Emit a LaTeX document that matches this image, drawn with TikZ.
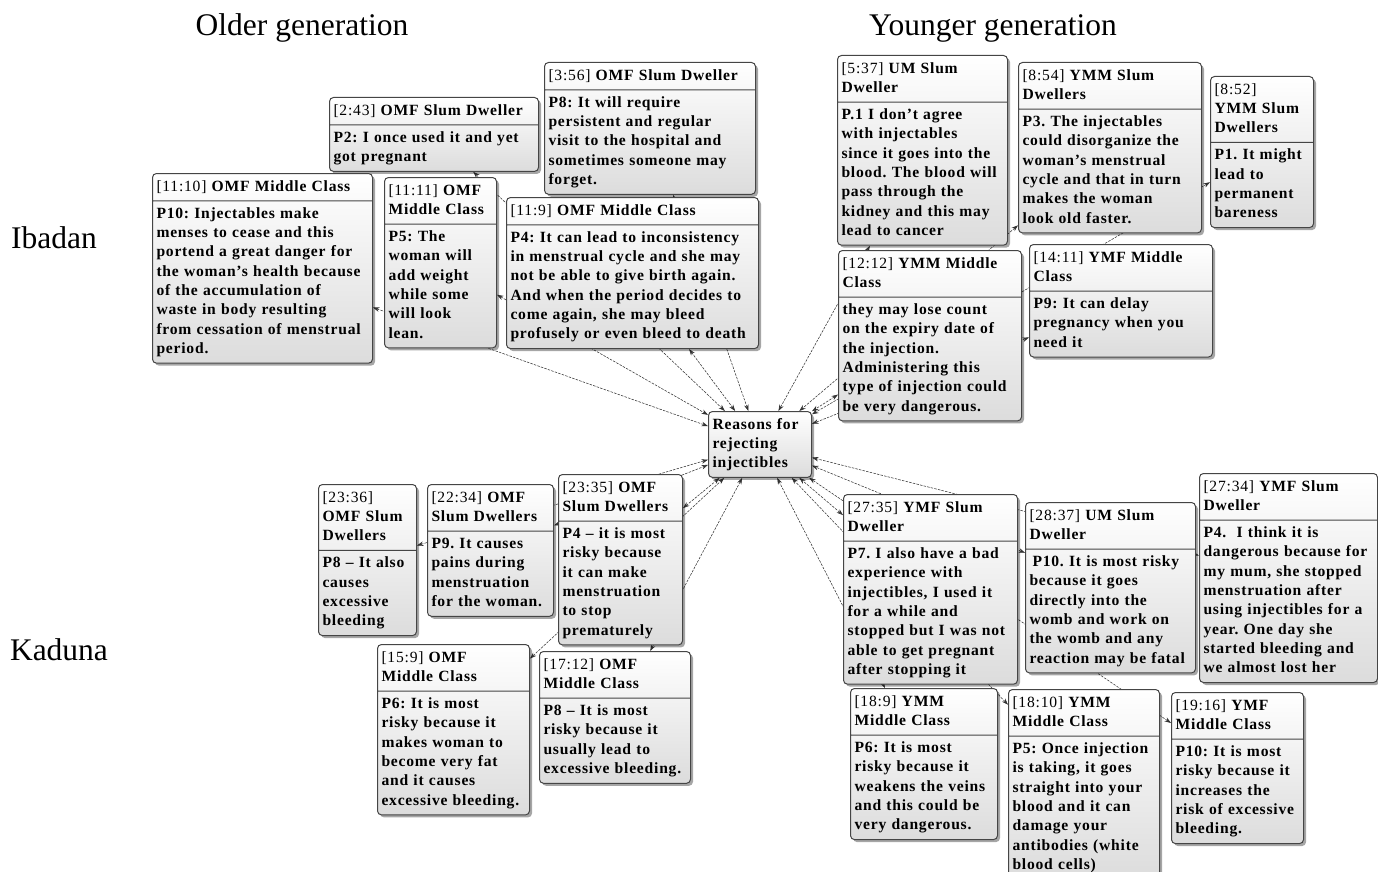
\documentclass[tikz,border=0pt]{standalone}
\usepackage{fontspec}
\setmainfont{Liberation Serif}
\newfontfamily\qfamily[LetterSpace=5]{Liberation Serif}
\usepackage{tikz}
\usetikzlibrary{shapes.multipart,shadows,arrows.meta}
\definecolor{qborder}{HTML}{454545}
\definecolor{qshade}{HTML}{DCDCDC}
\newcommand\qfont{\qfamily\fontsize{15.6}{19.3}\selectfont\bfseries\frenchspacing}
\newcommand\qtitle[2]{\strut{\mdseries[#1]} #2\strut}
\newcommand\qbody[1]{\strut#1\strut}
\pgfdeclarelayer{bg}
\pgfsetlayers{bg,main}
\tikzset{
  qbox/.style={rectangle split, rectangle split parts=2, draw=qborder, line width=1pt,
    rounded corners=4pt, top color=white, bottom color=qshade,
    drop shadow={shadow xshift=2.5pt, shadow yshift=-2.5pt, fill=black, opacity=0.35},
    inner xsep=4pt, inner ysep=3.5pt, anchor=north west, align=left, font=\qfont},
  qcode/.style={qbox, rectangle split parts=1},
  hdr/.style={font=\fontsize{31.5}{36}\selectfont},
  link/.style={draw=black!80, line width=0.55pt, dash pattern=on 2.5pt off 1.2pt,
    {Stealth[length=6.5pt,width=4.5pt]}-{Stealth[length=6.5pt,width=4.5pt]}}
}
\begin{document}
\begin{tikzpicture}[x=1pt,y=-1pt]
\useasboundingbox (0,0) rectangle (1378,872);
\node[hdr] (older) at (302,28) {Older generation};
\node[hdr] (younger) at (993,28) {Younger generation};
\node[hdr] (ibadan) at (54,238) {Ibadan};
\node[hdr] (kaduna) at (59,650) {Kaduna};

\node[qcode, text width=95pt] (cen) at (708,411) {\qbody{Reasons for\\rejecting\\injectibles}};

% Ibadan, older
\node[qbox, text width=201pt] (q243) at (329,97) {\qtitle{2:43}{OMF Slum Dweller}\nodepart{two}\qbody{P2: I once used it and yet\\got pregnant}};
\node[qbox, text width=203pt] (q356) at (544,62) {\qtitle{3:56}{OMF Slum Dweller}\nodepart{two}\qbody{P8: It will require\\persistent and regular\\visit to the hospital and\\sometimes someone may\\forget.}};
\node[qbox, text width=212pt] (q1110) at (152,173) {\qtitle{11:10}{OMF Middle Class}\nodepart{two}\qbody{P10: Injectables make\\menses to cease and this\\portend a great danger for\\the woman’s health because\\of the accumulation of\\waste in body resulting\\from cessation of menstrual\\period.}};
\node[qbox, text width=104pt] (q1111) at (384,177) {\qtitle{11:11}{OMF\\Middle Class}\nodepart{two}\qbody{P5: The\\woman will\\add weight\\while some\\will look\\lean.}};
\node[qbox, text width=244pt] (q119) at (506,197) {\qtitle{11:9}{OMF Middle Class}\nodepart{two}\qbody{P4: It can lead to inconsistency\\in menstrual cycle and she may\\not be able to give birth again.\\And when the period decides to\\come again, she may bleed\\profusely or even bleed to death}};

% Ibadan, younger
\node[qbox, text width=162pt] (q537) at (837,55) {\qtitle{5:37}{UM Slum\\Dweller}\nodepart{two}\qbody{P.1 I don’t agree\\with injectables\\since it goes into the\\blood. The blood will\\pass through the\\kidney and this may\\lead to cancer}};
\node[qbox, text width=175pt] (q854) at (1018,62) {\qtitle{8:54}{YMM Slum\\Dwellers}\nodepart{two}\qbody{P3. The injectables\\could disorganize the\\woman’s menstrual\\cycle and that in turn\\makes the woman\\look old faster.}};
\node[qbox, text width=95pt] (q852) at (1210,76) {\qtitle{8:52}{\\YMM Slum\\Dwellers}\nodepart{two}\qbody{P1. It might\\lead to\\permanent\\bareness}};
\node[qbox, text width=175pt] (q1212) at (838,250) {\qtitle{12:12}{YMM Middle\\Class}\nodepart{two}\qbody{they may lose count\\on the expiry date of\\the injection.\\Administering this\\type of injection could\\be very dangerous.}};
\node[qbox, text width=175pt] (q1411) at (1029,244) {\qtitle{14:11}{YMF Middle\\Class}\nodepart{two}\qbody{P9: It can delay\\pregnancy when you\\need it}};

% Kaduna, older
\node[qbox, text width=90pt] (q2336) at (318,484) {\qtitle{23:36}{\\OMF Slum\\Dwellers}\nodepart{two}\qbody{P8 – It also\\causes\\excessive\\bleeding}};
\node[qbox, text width=118pt] (q2234) at (427,484) {\qtitle{22:34}{OMF\\Slum Dwellers}\nodepart{two}\qbody{P9. It causes\\pains during\\menstruation\\for the woman.}};
\node[qbox, text width=116pt] (q2335) at (558,474) {\qtitle{23:35}{OMF\\Slum Dwellers}\nodepart{two}\qbody{P4 – it is most\\risky because\\it can make\\menstruation\\to stop\\prematurely}};
\node[qbox, text width=144pt] (q159) at (377,644) {\qtitle{15:9}{OMF\\Middle Class}\nodepart{two}\qbody{P6: It is most\\risky because it\\makes woman to\\become very fat\\and it causes\\excessive bleeding.}};
\node[qbox, text width=143pt] (q1712) at (539,651) {\qtitle{17:12}{OMF\\Middle Class}\nodepart{two}\qbody{P8 – It is most\\risky because it\\usually lead to\\excessive bleeding.}};

% Kaduna, younger
\node[qbox, text width=166pt] (q2735) at (843,494) {\qtitle{27:35}{YMF Slum\\Dweller}\nodepart{two}\qbody{P7. I also have a bad\\experience with\\injectibles, I used it\\for a while and\\stopped but I was not\\able to get pregnant\\after stopping it}};
\node[qbox, text width=162pt] (q2837) at (1025,502) {\qtitle{28:37}{UM Slum\\Dweller}\nodepart{two}\qbody{\hspace{3pt}P10. It is most risky\\because it goes\\directly into the\\womb and work on\\the womb and any\\reaction may be fatal}};
\node[qbox, text width=170pt] (q2734) at (1199,473) {\qtitle{27:34}{YMF Slum\\Dweller}\nodepart{two}\qbody{P4.\ \ I think it is\\dangerous because for\\my mum, she stopped\\menstruation after\\using injectibles for a\\year. One day she\\started bleeding and\\we almost lost her}};
\node[qbox, text width=139pt] (q189) at (850,688) {\qtitle{18:9}{YMM\\Middle Class}\nodepart{two}\qbody{P6: It is most\\risky because it\\weakens the veins\\and this could be\\very dangerous.}};
\node[qbox, text width=143pt] (q1810) at (1008,689) {\qtitle{18:10}{YMM\\Middle Class}\nodepart{two}\qbody{P5: Once injection\\is taking, it goes\\straight into your\\blood and it can\\damage your\\antibodies (white\\blood cells)}};
\node[qbox, text width=124pt] (q1916) at (1171,692) {\qtitle{19:16}{YMF\\Middle Class}\nodepart{two}\qbody{P10: It is most\\risky because it\\increases the\\risk of excessive\\bleeding.}};

\begin{pgfonlayer}{bg}
\draw[link] (q243) -- (cen);
\draw[link] (q356) -- (cen);
\draw[link] (q1110) -- (cen);
\draw[link] (q1111) -- (cen);
\draw[link] (q119) -- (cen);
\draw[link] (q537) -- (cen);
\draw[link] (q854) -- (cen);
\draw[link] (q852) -- (cen);
\draw[link] (q1212) -- (cen);
\draw[link] (q1411) -- (cen);
\draw[link] (q2336) -- (cen);
\draw[link] (q2234) -- (cen);
\draw[link] (q2335) -- (cen);
\draw[link] (q159) -- (cen);
\draw[link] (q1712) -- (cen);
\draw[link] (q2735) -- (cen);
\draw[link] (q2837) -- (cen);
\draw[link] (q2734) -- (cen);
\draw[link] (q189) -- (cen);
\draw[link] (q1810) -- (cen);
\draw[link] (q1916) -- (cen);
\end{pgfonlayer}
\end{tikzpicture}
\end{document}
